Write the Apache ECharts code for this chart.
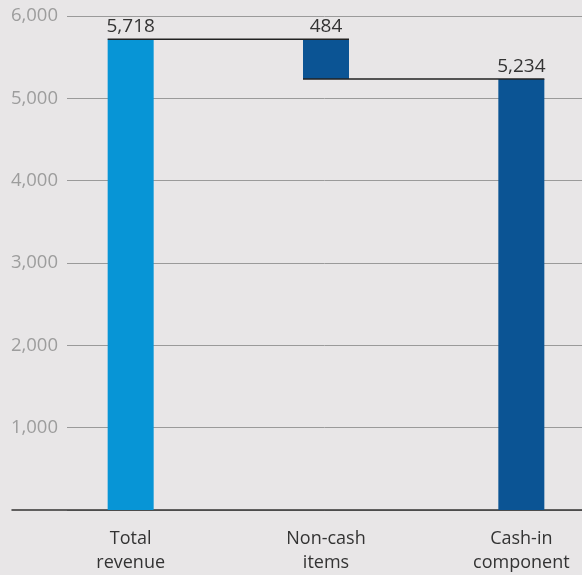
<!DOCTYPE html>
<html>
<head>
<meta charset="utf-8">
<script src="https://cdn.jsdelivr.net/npm/echarts@6/dist/echarts.min.js"></script>
<style>
  html, body { margin: 0; padding: 0; background: #e8e6e7; }
  #chart { width: 582px; height: 575px; }
</style>
</head>
<body>
<div id="chart"></div>
<script>
var categories = ['Total\nrevenue', 'Non-cash\nitems', 'Cash-in\ncomponent'];
var barBase = [0, 5234, 0];
var barValues = [5718, 484, 5234];
var barColors = ['#0795d6', '#0b5494', '#0b5494'];
// connector: from category i to i+1 at given level
var steps = [[0, 5718], [1, 5234]];
var yTicks = [0, 1000, 2000, 3000, 4000, 5000, 6000];

var font = '"Open Sans", "Noto Sans", sans-serif';
var barW = 46;

function fmt(v) {
  return v.toString().replace(/\B(?=(\d{3})+(?!\d))/g, ',');
}

var chart = echarts.init(document.getElementById('chart'));

var option = {
  backgroundColor: '#e8e6e7',
  animation: false,
  grid: [
    { left: 67, right: 0, top: 16, bottom: 65, outerBoundsMode: 'none' },
    { left: 12, right: 0, top: 16, bottom: 65, outerBoundsMode: 'none' },
    { left: 33, width: 586, top: 16, bottom: 65, outerBoundsMode: 'none' }
  ],
  xAxis: [
    { gridIndex: 0, type: 'category', data: categories, show: false },
    {
      gridIndex: 1, type: 'category', data: categories,
      axisLine: { show: true, lineStyle: { color: '#333', width: 1.5 } },
      axisTick: { show: false }, axisLabel: { show: false }
    },
    {
      gridIndex: 2, type: 'category', data: categories,
      axisLine: { show: false }, axisTick: { show: false },
      axisLabel: {
        margin: 17, color: '#333', fontSize: 18, fontFamily: font,
        lineHeight: 24, interval: 0
      }
    }
  ],
  yAxis: [
    {
      gridIndex: 0, type: 'value', min: yTicks[0], max: yTicks[yTicks.length - 1], interval: 1000,
      axisLine: { show: false }, axisTick: { show: false },
      splitLine: { lineStyle: { color: '#9a9a9a', width: 1 } },
      axisLabel: {
        margin: 9, color: '#9d9d9d', fontSize: 18.5, fontFamily: font,
        formatter: function (v) { return v === 0 ? '' : fmt(v); }
      }
    },
    { gridIndex: 1, type: 'value', min: 0, max: 6000, show: false },
    { gridIndex: 2, type: 'value', min: 0, max: 6000, show: false }
  ],
  series: [
    {
      type: 'bar', xAxisIndex: 2, yAxisIndex: 2, stack: 'w',
      barWidth: barW, itemStyle: { color: 'transparent' },
      data: barBase, silent: true
    },
    {
      type: 'bar', xAxisIndex: 2, yAxisIndex: 2, stack: 'w',
      barWidth: barW,
      data: barValues.map(function (v, i) {
        return { value: v, itemStyle: { color: barColors[i] } };
      }),
      label: {
        show: true, position: 'top', distance: 3,
        color: '#333', fontSize: 19, fontFamily: font,
        formatter: function (p) { return fmt(p.value); }
      }
    },
    {
      type: 'custom', xAxisIndex: 2, yAxisIndex: 2, z: 5,
      data: steps,
      renderItem: function (params, api) {
        var i = api.value(0);
        var lvl = api.value(1);
        var a = api.coord([i, lvl]);
        var b = api.coord([i + 1, lvl]);
        return {
          type: 'line',
          shape: { x1: a[0] - barW / 2, y1: a[1], x2: b[0] + barW / 2, y2: b[1] },
          style: { stroke: '#222', lineWidth: 1.5 }
        };
      }
    }
  ]
};

chart.setOption(option);
</script>
</body>
</html>
